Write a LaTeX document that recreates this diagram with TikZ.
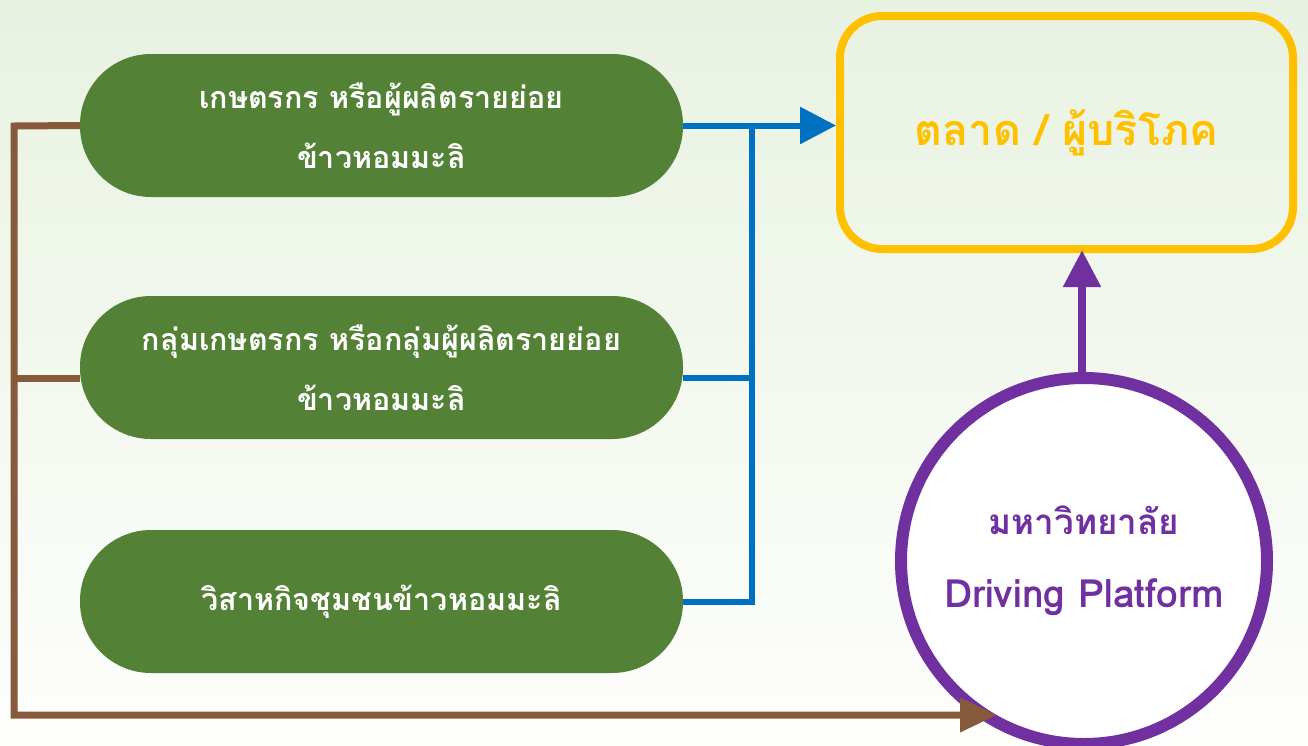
\documentclass[tikz,border=0pt]{standalone}
\usepackage{fontspec}
\newfontfamily\thaifont[Script=Thai]{Loma}
\usetikzlibrary{arrows.meta}
\definecolor{bgtop}{HTML}{E8F2E1}
\definecolor{bgbot}{HTML}{FEFEFD}
\definecolor{pillgreen}{HTML}{538135}
\definecolor{mkyellow}{HTML}{FFC000}
\definecolor{unipurple}{HTML}{7030A0}
\definecolor{flowblue}{HTML}{0070C0}
\definecolor{flowbrown}{HTML}{875A3C}
\begin{document}
\begin{tikzpicture}[x=1pt,y=-1pt,
  pill/.style={draw=none,fill=pillgreen,rounded corners=71pt,minimum width=603pt,minimum height=143pt,
    text=white,align=center,inner sep=0pt,font=\thaifont\bfseries\fontsize{30.5pt}{60pt}\selectfont},
  market/.style={draw=mkyellow,line width=8pt,rounded corners=42pt,minimum width=453pt,minimum height=233pt,
    text=mkyellow,font=\thaifont\bfseries\fontsize{43pt}{50pt}\selectfont},
  uni/.style={circle,draw=unipurple,line width=12pt,fill=white,minimum size=366pt,inner sep=0pt,
    text=unipurple,align=center,font=\thaifont\bfseries\fontsize{35pt}{73pt}\selectfont},
  blueline/.style={draw=flowblue,line width=6pt},
  brownline/.style={draw=flowbrown,line width=7pt},
  purpleline/.style={draw=unipurple,line width=8pt}
]
\useasboundingbox (0,0) rectangle (1308,745);
\shade[top color=bgtop,bottom color=bgbot] (0,0) rectangle (1308,745);

\node[pill] (p1) at (381.5,125.5) {เกษตรกร หรือผู้ผลิตรายย่อย\\ข้าวหอมมะลิ};
\node[pill] (p2) at (381.5,367.5) {กลุ่มเกษตรกร หรือกลุ่มผู้ผลิตรายย่อย\\ข้าวหอมมะลิ};
\node[pill] (p3) at (381.5,601.5) {วิสาหกิจชุมชนข้าวหอมมะลิ};

\node[market] (mk) at (1066.5,132.5) {\raisebox{-6pt}{ตลาด / ผู้บริโภค}};

\node[uni] (u) at (1084,561) {มหาวิทยาลัย\\{\fontsize{39pt}{73pt}\selectfont Driving Platform}};

\coordinate (bj) at (752,126);
\coordinate (bl) at (14,126);
\coordinate (bb) at (14,715);
\coordinate (bt) at (997,715);
\coordinate (p2r) at ([yshift=-10.5pt]p2.east);
\coordinate (p2l) at ([yshift=-10.5pt]p2.west);

% brown lines
\draw[brownline,-{Triangle[length=37pt,width=33pt]}] (p1.west) -- (bl) -- (bb) -- (bt);
\draw[brownline] (p2l) -- (p2l -| bl);

% blue lines
\draw[blueline,-{Triangle[length=36pt,width=36pt]}] (p1.east) -- (p1.east -| mk.west);
\draw[blueline] (p3.east) -| (bj);
\draw[blueline] (p2r) -- (p2r -| bj);

% purple arrow
\draw[purpleline,-{Triangle[length=37pt,width=36pt]}] (u.north -| 1082,0) -- (1082,250);
\end{tikzpicture}
\end{document}
